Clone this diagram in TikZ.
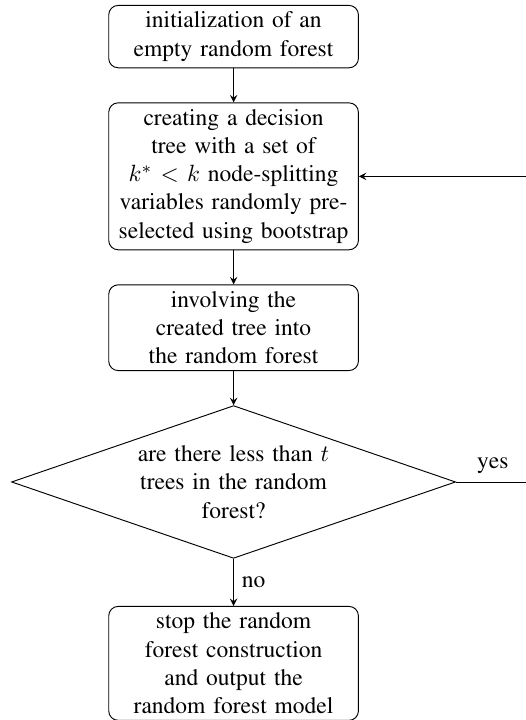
\documentclass[tikz,border=0pt]{standalone}
\usepackage{amsmath}
\usepackage{amssymb}
\usepackage[T1]{fontenc}
\usepackage{times}
\usepackage{tikz}
\usetikzlibrary{positioning,shapes.geometric}

\begin{document}
\begin{tikzpicture}[->,>=stealth,node distance=0.51cm,
      block/.style={rectangle,draw,rounded corners,text width=3.5cm,align=center,inner ysep=2.8pt},
      test/.style={diamond,draw,aspect=3,text width=2.9cm,align=center,
        inner sep=0pt,minimum width=189pt,minimum height=65pt}]
			\useasboundingbox (-99.4pt,2.1pt) rectangle (124.4pt,-304.3pt);
			\node[block,anchor=north] (init) at (0,0) {initialization of an\\ empty random forest};
			\node[block] (build) [below=of init] {creating a decision\\ tree with a set of\\ $k^* < k$ node-splitting\\ variables randomly pre-\\selected using bootstrap};
			\node[block] (add) [below=of build] {involving the\\ created tree into\\ the random forest};
			\node[test] (check) [below=of add] {are there less than $t$\\ trees in the random\\ forest?};
			\node[block] (stop) [below=0.705cm of check] {stop the random\\ forest construction\\ and output the\\ random forest model};
			\coordinate (back) at (126pt,0);
			\path
        (init) edge (build)
        (build) edge (add)
        (add) edge (check)
        (check) edge node [right] {no} (stop);
			\draw (check.east) -- node [above] {yes} (check.east -| back) |- (build.east);
		\end{tikzpicture}
\end{document}
